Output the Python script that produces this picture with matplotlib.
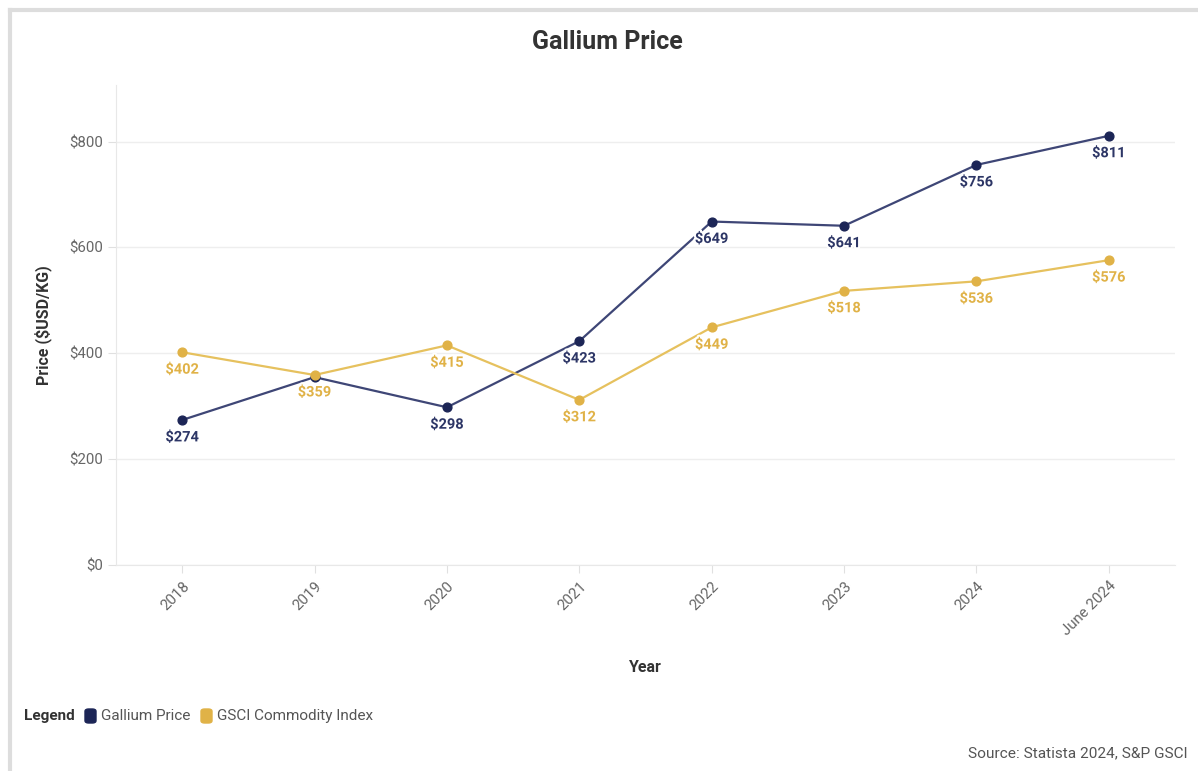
import matplotlib.pyplot as plt
import matplotlib.patheffects as pe
from matplotlib.lines import Line2D
from matplotlib.patches import FancyBboxPatch

plt.rcParams['font.family'] = ['Roboto', 'DejaVu Sans']

# data
years = ["2018", "2019", "2020", "2021", "2022", "2023", "2024", "June 2024"]
gallium = [274, 355, 298, 423, 649, 641, 756, 811]
gsci = [402, 359, 415, 312, 449, 518, 536, 576]
gallium_labels = ["$274", None, "$298", "$423", "$649", "$641", "$756", "$811"]
gsci_labels = ["$402", "$359", "$415", "$312", "$449", "$518", "$536", "$576"]

navy_line = "#3e4676"
navy = "#1c2556"
gold_line = "#e6c15e"
gold = "#e0b247"

W, H = 1198, 771
fig = plt.figure(figsize=(W / 100, H / 100), dpi=100)
ax = fig.add_axes([116 / W, 1 - 565 / H, (1175 - 116) / W, (565 - 85) / H])

x = list(range(len(years)))
ax.plot(x, gallium, color=navy_line, lw=1.6, zorder=3)
ax.scatter(x, gallium, color=navy, s=40, zorder=4)
ax.plot(x, gsci, color=gold_line, lw=1.6, zorder=3)
ax.scatter(x, gsci, color=gold, s=40, zorder=4)

stroke = [pe.withStroke(linewidth=3, foreground="white")]
for xi, v, lab in zip(x, gallium, gallium_labels):
    if lab:
        ax.annotate(lab, (xi, v), xytext=(0, -7.5), textcoords="offset points",
                    ha="center", va="top", fontsize=10.5, fontweight="bold",
                    color="#2d3666", path_effects=stroke, zorder=5)
for xi, v, lab in zip(x, gsci, gsci_labels):
    ax.annotate(lab, (xi, v), xytext=(0, -7.5), textcoords="offset points",
                ha="center", va="top", fontsize=10.5, fontweight="bold",
                color=gold, path_effects=stroke, zorder=6)

ax.set_xlim(-0.5, 7.5)
ax.set_ylim(0, 907)
ax.set_yticks([0, 200, 400, 600, 800])
ax.set_yticklabels(["$0", "$200", "$400", "$600", "$800"])
ax.set_xticks(x)
ax.set_xticklabels(years, rotation=45, ha="right", rotation_mode="anchor")
ax.grid(axis="y", color="#eeeeee", lw=1)
ax.set_axisbelow(True)
for s in ["top", "right"]:
    ax.spines[s].set_visible(False)
ax.spines["left"].set_color("#e8e8e8")
ax.spines["bottom"].set_color("#e8e8e8")
ax.tick_params(axis="both", colors="#e0e0e0", labelcolor="#666666",
               labelsize=10.8, length=6)
ax.tick_params(axis="x", pad=4)

ax.set_ylabel("Price ($USD/KG)", fontsize=11.5, fontweight="bold",
              color="#333333", labelpad=12)
fig.text(645 / W, 1 - 667 / H, "Year", ha="center", va="center",
         fontsize=11.5, fontweight="bold", color="#333333")
fig.text(607 / W, 1 - 42 / H, "Gallium Price", ha="center", va="center",
         fontsize=18, fontweight="bold", color="#333333")

# legend
ly = 1 - 716 / H
fig.text(24 / W, ly, "Legend", ha="left", va="center", fontsize=11,
         fontweight="bold", color="#333333")
for x0, c, txt in [(85, navy, "Gallium Price"), (201, gold, "GSCI Commodity Index")]:
    fig.patches.append(FancyBboxPatch((x0 / W, ly - 7 / H), 11 / W, 14 / H,
                                      boxstyle="round,pad=0,rounding_size=0.003",
                                      transform=fig.transFigure, color=c))
    fig.text((x0 + 16) / W, ly, txt, ha="left", va="center", fontsize=11,
             color="#555555")

fig.text(1188 / W, 1 - 753 / H, "Source: Statista 2024, S&P GSCI", ha="right",
         va="center", fontsize=11.1, color="#555555")

# frame
fig.lines.append(Line2D([10 / W, 1], [1 - 10 / H, 1 - 10 / H],
                        transform=fig.transFigure, color="#dddddd", lw=3))
fig.lines.append(Line2D([10 / W, 10 / W], [0, 1 - 10 / H],
                        transform=fig.transFigure, color="#dddddd", lw=3))

fig.savefig("out.png", dpi=100)
